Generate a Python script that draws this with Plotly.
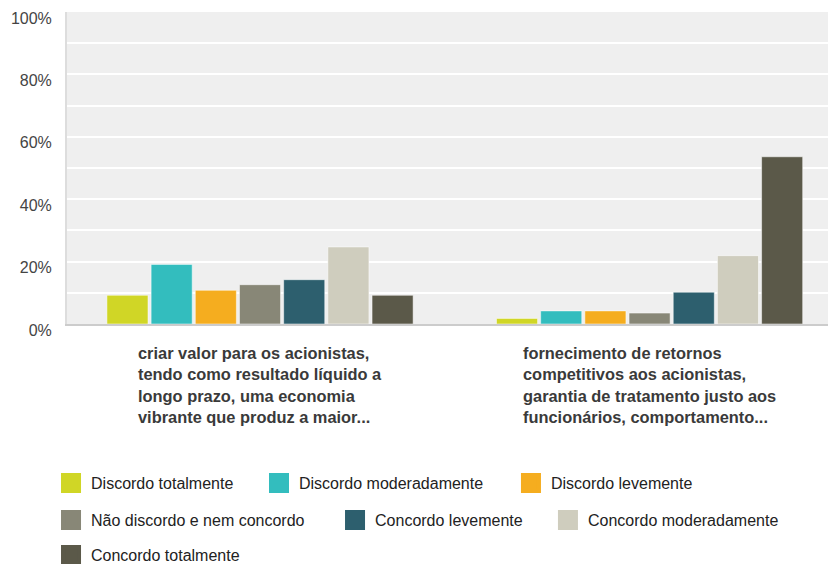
import plotly.graph_objects as go

categories = [
    "criar valor para os acionistas,<br>tendo como resultado líquido a<br>longo prazo, uma economia<br>vibrante que produz a maior...",
    "fornecimento de retornos<br>competitivos aos acionistas,<br>garantia de tratamento justo aos<br>funcionários, comportamento...",
]
series_names = [
    "Discordo totalmente",
    "Discordo moderadamente",
    "Discordo levemente",
    "Não discordo e nem concordo",
    "Concordo levemente",
    "Concordo moderadamente",
    "Concordo totalmente",
]
series_values = [
    [0.092, 0.018],
    [0.191, 0.042],
    [0.108, 0.042],
    [0.126, 0.035],
    [0.142, 0.102],
    [0.247, 0.219],
    [0.092, 0.536],
]
colors = ["#d0d626", "#33bdbe", "#f5ad1f", "#888777", "#2d5f6e", "#cfcdbe", "#5b5949"]
y_ticks = [0, 0.2, 0.4, 0.6, 0.8, 1.0]
y_tick_text = ["0%", "20%", "40%", "60%", "80%", "100%"]

# legend placement (x in paper coords, y in container coords) for each entry
legend_pos = [(-0.021, 0.1436), (0.2523, 0.1436), (0.5834, 0.1436),
              (-0.021, 0.078), (0.3522, 0.078), (0.632, 0.078),
              (-0.021, 0.016)]

FONT = "Liberation Sans, Arial, Helvetica, sans-serif"
x_idx = list(range(len(categories)))

fig = go.Figure()
for name, vals, col in zip(series_names, series_values, colors):
    fig.add_trace(go.Bar(
        x=x_idx, y=vals, name=name, showlegend=False, legendgroup=name,
        marker=dict(color=col, line=dict(color="rgba(255,255,255,0.5)", width=1)),
    ))

legend_layouts = {}
for i, (name, col) in enumerate(zip(series_names, colors)):
    lname = "legend" if i == 0 else f"legend{i + 1}"
    fig.add_trace(go.Scatter(
        x=[None], y=[None], mode="markers", name=name, legendgroup=name,
        legend=lname, showlegend=True,
        marker=dict(symbol="square", size=16, color=col, line=dict(color=col, width=4)),
    ))
    lx, ly = legend_pos[i]
    legend_layouts[lname] = dict(
        orientation="h", x=lx, xanchor="left", y=ly, yanchor="middle",
        yref="container",
        font=dict(family=FONT, size=16, color="#222222"),
        bgcolor="rgba(0,0,0,0)", itemsizing="trace",
    )

for i, cat in enumerate(categories):
    fig.add_annotation(
        x=i, xref="x", y=-0.058, yref="paper", yanchor="top",
        text="<b>" + cat + "</b>", showarrow=False, align="left", xanchor="center",
        font=dict(family=FONT, size=16.4, color="#3a3a3a"),
    )

fig.update_layout(
    width=830, height=564,
    margin=dict(l=67, r=2, t=12, b=240),
    paper_bgcolor="white",
    plot_bgcolor="#efefef",
    barmode="group",
    bargap=0.206,
    bargroupgap=0.07,
    font=dict(family=FONT, size=16, color="#333333"),
    showlegend=True,
    xaxis=dict(
        range=[-0.4955, 1.458], showticklabels=False, showgrid=False, zeroline=False,
        showline=True, linecolor="#cccccc", linewidth=2, fixedrange=True,
    ),
    yaxis=dict(
        range=[0, 1.0], tickvals=y_ticks, ticktext=y_tick_text,
        showgrid=True, gridcolor="white", gridwidth=2,
        minor=dict(dtick=0.1, showgrid=True, gridcolor="white", gridwidth=2),
        zeroline=False, showline=True, linecolor="#dddddd", linewidth=2,
        ticklabelstandoff=10, ticklabelshift=6, ticklabeloverflow="allow",
        tickfont=dict(family=FONT, size=16, color="#444444"),
    ),
    **legend_layouts,
)

fig.write_html("out.html")
